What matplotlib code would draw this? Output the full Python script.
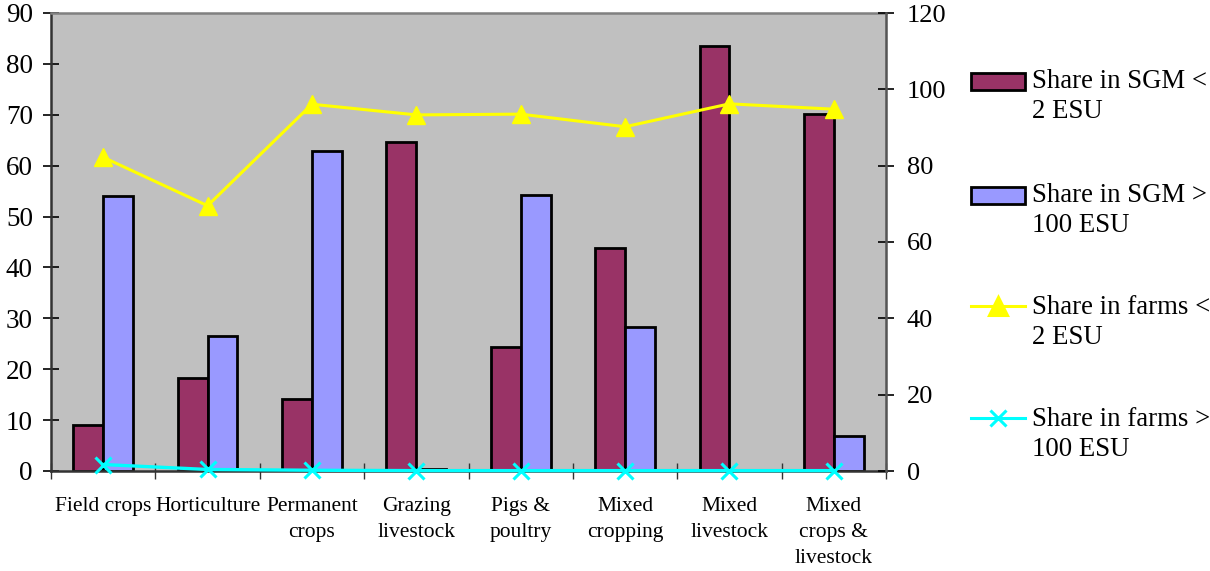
import matplotlib
matplotlib.use("Agg")
import matplotlib.pyplot as plt
import numpy as np
from matplotlib.patches import Rectangle
from matplotlib.lines import Line2D

plt.rcParams['font.family'] = ['Liberation Serif', 'DejaVu Serif']

# Farm types
categories = ["Field crops", "Horticulture", "Permanent\ncrops", "Grazing\nlivestock",
              "Pigs &\npoultry", "Mixed\ncropping", "Mixed\nlivestock", "Mixed\ncrops &\nlivestock"]

# Left axis (bars)
sgm_small = [9.0, 18.3, 14.1, 64.7, 24.3, 43.8, 83.5, 70.1]
sgm_large = [54.1, 26.5, 62.8, 0.4, 54.2, 28.3, 0.2, 6.9]

# Right axis (lines)
farms_small = [82.2, 69.5, 96.1, 93.3, 93.5, 90.2, 96.2, 94.8]
farms_large = [1.7, 0.4, 0.2, 0.1, 0.1, 0.1, 0.1, 0.1]

left_ticks = [0, 10, 20, 30, 40, 50, 60, 70, 80, 90]
right_ticks = [0, 20, 40, 60, 80, 100, 120]

legend_labels = [("Share in SGM <", "2 ESU"),
                 ("Share in SGM >", "100 ESU"),
                 ("Share in farms <", "2 ESU"),
                 ("Share in farms >", "100 ESU")]

MAROON = "#993366"
BLUE = "#9999FF"
YELLOW = "#FFFF00"
CYAN = "#00FFFF"

W, H = 1210, 571
fig = plt.figure(figsize=(W / 100, H / 100), dpi=100)
ax = fig.add_axes([51 / W, (H - 471) / H, (886 - 51) / W, (471 - 13) / H])
ax.set_facecolor("#C0C0C0")

x = np.arange(len(categories))
bw = 1 / 3.5
ax.bar(x - bw / 2, sgm_small, bw, color=MAROON, edgecolor="black", linewidth=2, zorder=2)
ax.bar(x + bw / 2, sgm_large, bw, color=BLUE, edgecolor="black", linewidth=2, zorder=2)

ax.set_xlim(-0.5, len(categories) - 0.5)
ax.set_ylim(0, 90)
ax.set_yticks(left_ticks)
ax.set_xticks(np.arange(len(categories) + 1) - 0.5, minor=False)
ax.set_xticklabels([])
ax.set_xticks(x, minor=True)
ax.set_xticklabels(categories, minor=True, fontsize=15.5, linespacing=1.5, va="top")
ax.tick_params(axis="x", which="minor", length=0, pad=19)
ax.tick_params(axis="x", which="major", direction="inout", length=12, width=1, color="#333333")
ax.tick_params(axis="y", direction="inout", length=12, width=1.2, labelsize=19.5, pad=7)

for side in ["left", "bottom"]:
    ax.spines[side].set_color("#333333")
    ax.spines[side].set_linewidth(1.8)
ax.spines["top"].set_color("#808080")
ax.spines["top"].set_linewidth(1.8)
ax.spines["right"].set_color("#808080")

ax2 = ax.twinx()
ax2.plot(x, farms_small, color=YELLOW, linewidth=2.2, marker="^", markersize=12.5,
         markerfacecolor=YELLOW, markeredgecolor=YELLOW, clip_on=False, zorder=3)
ax2.plot(x, farms_large, color=CYAN, linewidth=2.4, marker="x", markersize=11,
         markeredgewidth=2.2, clip_on=False, zorder=3)
ax2.set_ylim(0, 120)
ax2.set_yticks(right_ticks)
ax2.tick_params(axis="y", direction="inout", length=12, width=1.2, labelsize=19, pad=9)
ax2.spines["right"].set_color("#555555")
ax2.spines["right"].set_linewidth(1.8)
for side in ["left", "top", "bottom"]:
    ax2.spines[side].set_visible(False)

# Legend, drawn by hand so the key sits on the first text line
line1_y = [82, 195, 307, 419]
for i, (l1, l2) in enumerate(legend_labels):
    yc = line1_y[i]
    if i < 2:
        fc = MAROON if i == 0 else BLUE
        fig.add_artist(Rectangle((971 / W, (H - yc - 8.5) / H), 54 / W, 17 / H,
                                 facecolor=fc, edgecolor="black", linewidth=2,
                                 transform=fig.transFigure))
    else:
        col = YELLOW if i == 2 else CYAN
        mk = "^" if i == 2 else "x"
        fig.add_artist(Line2D([971 / W, 1025 / W], [(H - yc + 1) / H] * 2, color=col,
                              linewidth=2.2, transform=fig.transFigure))
        fig.add_artist(Line2D([998 / W], [(H - yc + 1) / H], color=col, marker=mk,
                              markersize=12.5 if i == 2 else 11, markeredgewidth=2.2,
                              transform=fig.transFigure))
    fig.text(1032 / W, (H - yc) / H, l1, fontsize=19.3, va="center", ha="left")
    fig.text(1032 / W, (H - yc - 30) / H, l2, fontsize=19.3, va="center", ha="left")

fig.savefig("out.png", dpi=100)
